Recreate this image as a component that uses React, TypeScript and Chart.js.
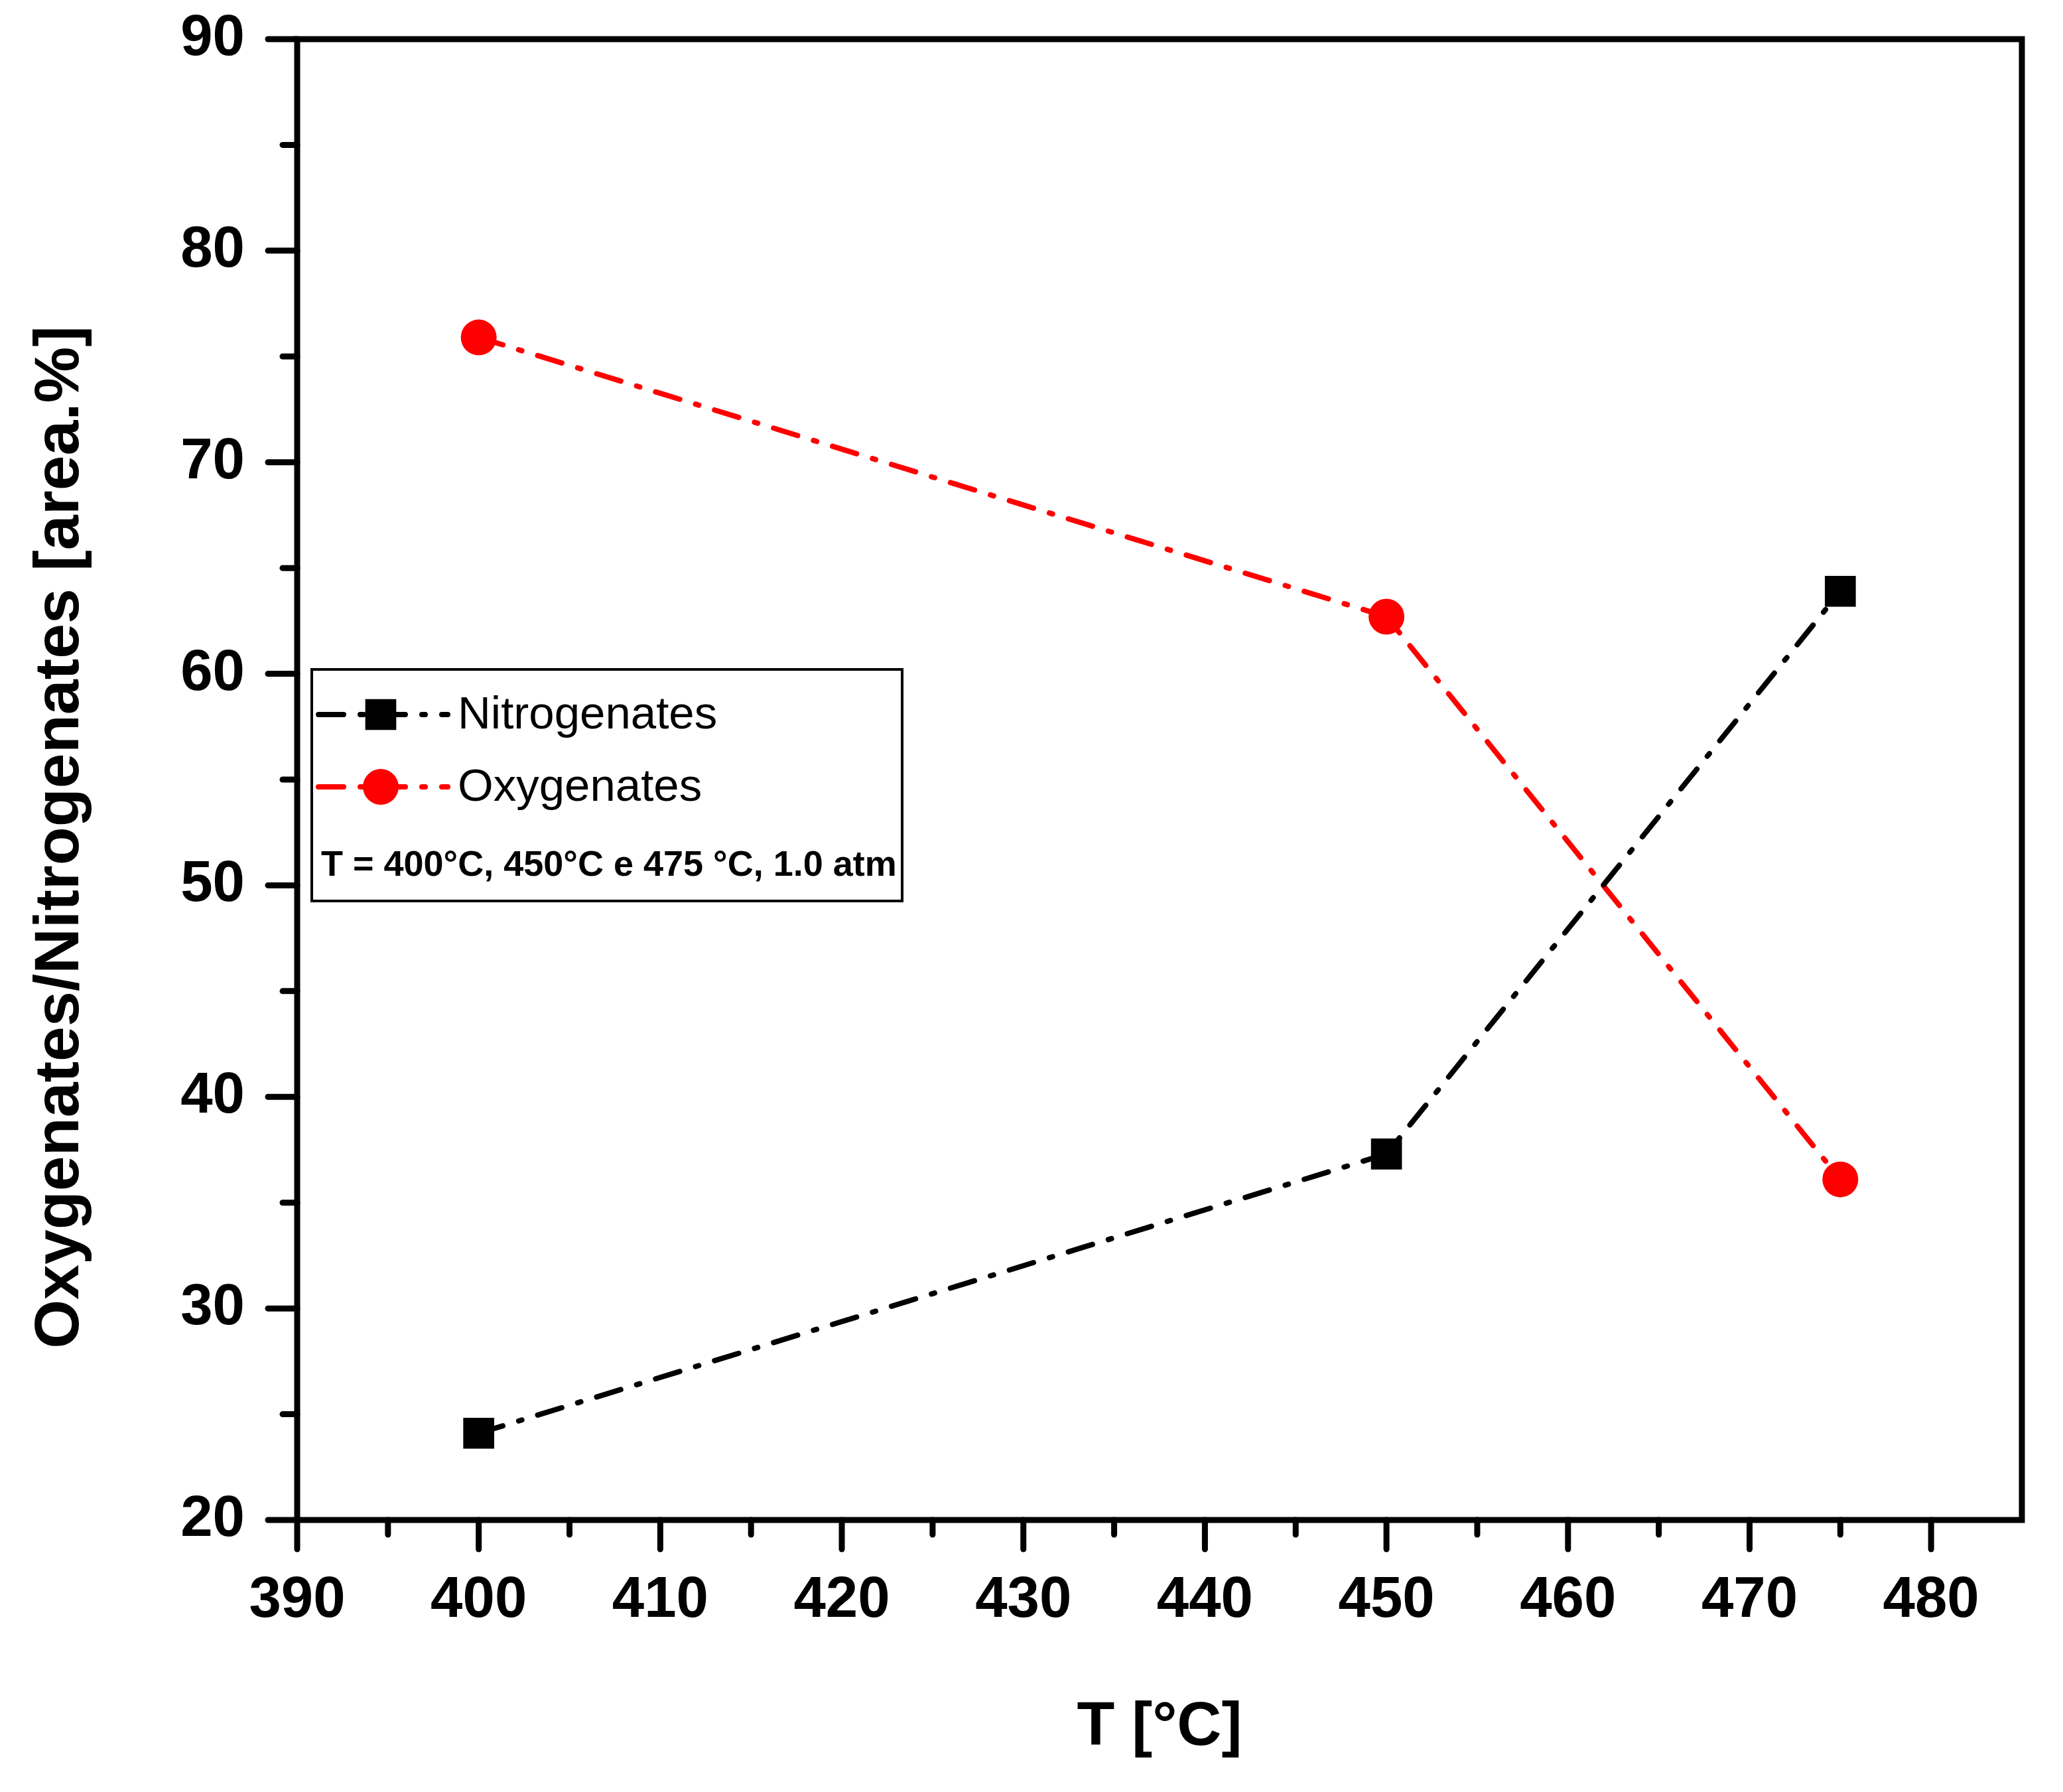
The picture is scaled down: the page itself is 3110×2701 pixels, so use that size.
import { useEffect, useRef } from "react"
import { Chart, registerables } from "chart.js"
import { drawPoint } from "chart.js/helpers"

Chart.register(...registerables)

// Temperatures [°C] and composition [area %]
const temperatures = [400, 450, 475]
const nitrogenates = [24.1, 37.3, 63.9]
const oxygenates = [75.9, 62.7, 36.1]

const xLabels = [390, 400, 410, 420, 430, 440, 450, 460, 470, 480]
const yLabels = [20, 30, 40, 50, 60, 70, 80, 90]
const yTitle = "Oxygenates/Nitrogenates [area.%]"
const conditionsText = "T = 400°C, 450°C e 475 °C, 1.0 atm"

const FONT = "'Liberation Sans', Arial, sans-serif"
const AXIS_W = 9

// frame around plot area plus outward major/minor ticks (left + bottom only)
const frameAndTicks = {
  id: "frameAndTicks",
  afterDatasetsDraw(chart: any) {
    const { ctx, chartArea, scales } = chart
    const { left, right, top, bottom } = chartArea
    ctx.save()
    ctx.strokeStyle = "#000"
    ctx.lineWidth = AXIS_W
    ctx.lineCap = "round"
    scales.x.ticks.forEach((t: any) => {
      if (t.value >= scales.x.max) return
      const px = scales.x.getPixelForValue(t.value)
      const len = t.value % 10 === 0 ? 44 : 22
      ctx.beginPath()
      ctx.moveTo(px, bottom)
      ctx.lineTo(px, bottom + len)
      ctx.stroke()
    })
    scales.y.ticks.forEach((t: any) => {
      const py = scales.y.getPixelForValue(t.value)
      const len = t.value % 10 === 0 ? 44 : 22
      ctx.beginPath()
      ctx.moveTo(left, py)
      ctx.lineTo(left - len, py)
      ctx.stroke()
    })
    ctx.lineCap = "butt"
    ctx.lineJoin = "miter"
    ctx.strokeRect(left, top, right - left, bottom - top)

    // y axis title sits a bit below the plot centre in the original
    ctx.translate(92, 1262)
    ctx.rotate(-Math.PI / 2)
    ctx.fillStyle = "#000"
    ctx.font = `bold 95px ${FONT}`
    ctx.textAlign = "center"
    ctx.textBaseline = "middle"
    ctx.fillText(yTitle, 0, 0)
    ctx.restore()
  },
}

// boxed legend with line sample + marker, and the conditions note
const boxLegend = {
  id: "boxLegend",
  afterDraw(chart: any) {
    const { ctx, chartArea } = chart
    const bx = chartArea.left + 22
    const by = chartArea.top + 950
    const bw = 890
    const bh = 349
    ctx.save()
    ctx.fillStyle = "#fff"
    ctx.fillRect(bx, by, bw, bh)
    ctx.strokeStyle = "#000"
    ctx.lineWidth = 4
    ctx.strokeRect(bx, by, bw, bh)

    chart.data.datasets.forEach((ds: any, i: number) => {
      const cy = by + 68 + i * 109
      ctx.save()
      ctx.strokeStyle = ds.borderColor
      ctx.lineWidth = ds.borderWidth
      ctx.lineCap = "round"
      ctx.setLineDash(ds.borderDash)
      ctx.beginPath()
      ctx.moveTo(bx + 10, cy)
      ctx.lineTo(bx + 205, cy)
      ctx.stroke()
      ctx.restore()
      ctx.fillStyle = ds.pointBackgroundColor
      ctx.strokeStyle = ds.pointBorderColor
      drawPoint(ctx, { pointStyle: ds.pointStyle, radius: ds.pointRadius, rotation: 0, borderWidth: 0 }, bx + 104, cy)
      ctx.fillStyle = "#000"
      ctx.font = `69px ${FONT}`
      ctx.textBaseline = "middle"
      ctx.textAlign = "left"
      ctx.fillText(ds.label, bx + 220, cy + 2)
    })

    ctx.fillStyle = "#000"
    ctx.font = `bold 54px ${FONT}`
    ctx.textBaseline = "middle"
    ctx.fillText(conditionsText, bx + 14, by + 296)
    ctx.restore()
  },
}

export default function App() {
  const chartRef = useRef<HTMLCanvasElement>(null)
  const chartInstance = useRef<Chart | null>(null)

  useEffect(() => {
    document.body.style.margin = "0"
    if (!chartRef.current) return
    if (chartInstance.current) chartInstance.current.destroy()

    const dash = [38, 25, 5, 25]

    chartInstance.current = new Chart(chartRef.current, {
      type: "line",
      data: {
        datasets: [
          {
            label: "Nitrogenates",
            data: temperatures.map((t, i) => ({ x: t, y: nitrogenates[i] })),
            borderColor: "#000",
            borderWidth: 8,
            borderDash: dash,
            borderCapStyle: "round",
            pointStyle: "rect",
            pointRadius: 33,
            pointBackgroundColor: "#000",
            pointBorderColor: "#000",
            pointBorderWidth: 0,
            tension: 0,
          },
          {
            label: "Oxygenates",
            data: temperatures.map((t, i) => ({ x: t, y: oxygenates[i] })),
            borderColor: "#ff0000",
            borderWidth: 8,
            borderDash: dash,
            borderCapStyle: "round",
            pointStyle: "circle",
            pointRadius: 27,
            pointBackgroundColor: "#ff0000",
            pointBorderColor: "#ff0000",
            pointBorderWidth: 0,
            tension: 0,
          },
        ] as any,
      },
      options: {
        animation: false,
        responsive: false,
        devicePixelRatio: 1,
        layout: { padding: { top: 59, right: 62, left: 0, bottom: 0 } },
        plugins: {
          legend: { display: false },
          tooltip: { enabled: false },
        },
        scales: {
          x: {
            type: "linear",
            min: 390,
            max: 485,
            afterFit: (scale: any) => {
              scale.height = 410
              scale.paddingLeft = 0
              scale.paddingRight = 0
            },
            ticks: {
              stepSize: 5,
              padding: 70,
              color: "#000",
              font: { family: FONT, size: 87, weight: "bold" },
              callback: (v: any) => (xLabels.includes(Number(v)) ? String(v) : ""),
              maxRotation: 0,
              autoSkip: false,
            },
            grid: { display: false, drawTicks: false },
            border: { display: false },
            title: {
              display: true,
              text: "T [°C]",
              color: "#000",
              font: { family: FONT, size: 93, weight: "bold" },
              padding: { top: 0, bottom: 41 },
            },
          },
          y: {
            type: "linear",
            min: 20,
            max: 90,
            afterFit: (scale: any) => {
              scale.width = 448
              scale.paddingTop = 0
              scale.paddingBottom = 0
            },
            ticks: {
              stepSize: 5,
              padding: 79,
              color: "#000",
              font: { family: FONT, size: 87, weight: "bold" },
              callback: (v: any) => (yLabels.includes(Number(v)) ? String(v) : ""),
              autoSkip: false,
            },
            grid: { display: false, drawTicks: false },
            border: { display: false },
            title: { display: false },
          },
        },
      } as any,
      plugins: [frameAndTicks, boxLegend],
    })

    return () => {
      if (chartInstance.current) {
        chartInstance.current.destroy()
        chartInstance.current = null
      }
    }
  }, [])

  return (
    <div style={{ width: 3110, height: 2701, background: "#fff" }}>
      <canvas ref={chartRef} width={3110} height={2701} style={{ width: 3110, height: 2701 }}></canvas>
    </div>
  )
}
